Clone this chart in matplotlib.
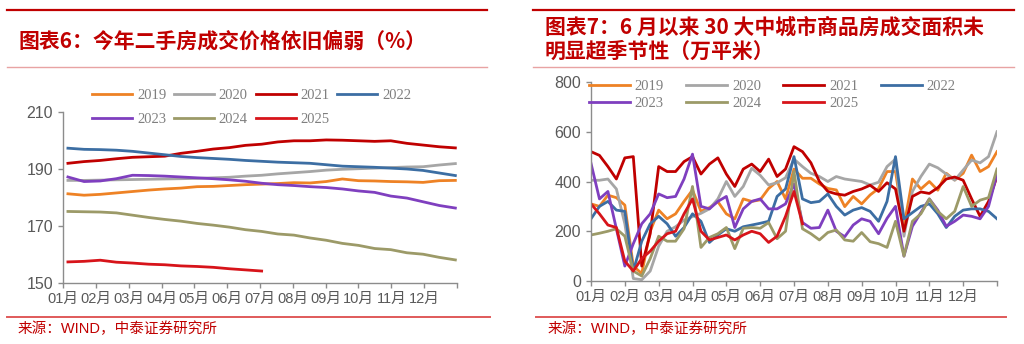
import numpy as np
import matplotlib
matplotlib.use('Agg')
import matplotlib.pyplot as plt
from matplotlib.lines import Line2D

plt.rcParams['font.family'] = ['Liberation Sans', 'Noto Sans CJK SC']

# Second-hand house price index by year (x in months from Jan 1)
price_x = np.linspace(0.15, 11.95, 25)
price_2019 = [181.3, 180.8, 181.1, 181.6, 182.1, 182.6, 183.0, 183.3, 183.8, 183.9, 184.2, 184.5, 184.7,
              184.9, 185.2, 185.1, 185.6, 186.5, 185.9, 185.8, 185.6, 185.5, 185.3, 185.9, 186.0]
price_2020 = [186.0, 186.0, 186.1, 186.2, 186.3, 186.4, 186.5, 186.6, 186.7, 186.9, 187.1, 187.5, 187.8,
              188.3, 188.7, 189.1, 189.6, 189.9, 190.1, 190.3, 190.5, 190.7, 190.8, 191.4, 191.9]
price_2021 = [192.0, 192.6, 193.0, 193.6, 194.1, 194.3, 194.5, 195.5, 196.2, 197.0, 197.5, 198.3, 198.7,
              199.5, 199.9, 199.9, 200.2, 200.1, 199.9, 199.7, 199.9, 199.0, 198.4, 197.8, 197.4]
price_2022 = [197.3, 196.9, 196.8, 196.6, 196.2, 195.6, 195.0, 194.4, 194.0, 193.7, 193.4, 193.0, 192.7,
              192.4, 192.2, 192.0, 191.5, 191.0, 190.8, 190.6, 190.3, 190.0, 189.5, 188.6, 187.7]
price_2023 = [187.2, 185.6, 185.8, 186.6, 187.8, 187.7, 187.5, 187.2, 186.9, 186.6, 186.2, 185.7, 185.0,
              184.5, 184.2, 183.8, 183.5, 183.0, 182.3, 181.8, 180.5, 179.8, 178.5, 177.2, 176.3]
price_2024 = [175.1, 175.0, 174.9, 174.6, 173.8, 173.0, 172.3, 171.7, 170.9, 170.3, 169.6, 168.7, 168.1,
              167.2, 166.8, 165.8, 165.0, 163.9, 163.2, 162.1, 161.7, 160.6, 160.1, 159.0, 158.1]
price_2025 = [157.4, 157.6, 158.0, 157.3, 157.0, 156.6, 156.4, 156.0, 155.8, 155.5, 155.0, 154.6, 154.2]

# 30 big/mid city new home sales area, 10k sqm, weekly (x in months)
area_x = np.arange(49) / 4
area_2019 = [310, 300, 345, 335, 305, 60, 30, 200, 285, 250, 270, 320, 366, 280, 295, 319, 270, 250, 330,
             320, 326, 372, 400, 330, 450, 413, 413, 390, 372, 366, 299, 340, 310, 346, 372, 440, 440, 220,
             410, 370, 400, 365, 433, 406, 433, 506, 440, 460, 520]
area_2020 = [405, 405, 410, 370, 230, 10, 5, 40, 140, 200, 218, 245, 259, 272, 290, 330, 400, 340, 380,
             453, 425, 386, 395, 415, 490, 460, 433, 420, 400, 420, 410, 405, 400, 386, 397, 460, 490, 180,
             360, 420, 470, 455, 430, 405, 446, 486, 475, 500, 600]
area_2021 = [520, 505, 460, 410, 495, 500, 60, 190, 460, 440, 440, 480, 500, 430, 470, 495, 430, 380, 450,
             470, 440, 490, 420, 450, 540, 520, 475, 400, 360, 350, 345, 360, 370, 385, 360, 395, 370, 200,
             340, 358, 352, 375, 410, 418, 405, 330, 260, 320, 420]
area_2022 = [250, 300, 320, 285, 280, 40, 160, 230, 260, 230, 180, 215, 270, 240, 155, 185, 210, 200, 218,
             225, 232, 240, 340, 370, 500, 330, 315, 320, 350, 300, 265, 285, 295, 280, 240, 320, 500, 250,
             275, 300, 310, 270, 215, 260, 285, 290, 290, 280, 250]
area_2023 = [473, 330, 360, 210, 60, 150, 230, 270, 350, 335, 340, 410, 510, 300, 290, 320, 340, 215, 290,
             320, 330, 290, 290, 310, 390, 235, 212, 215, 285, 200, 178, 225, 250, 240, 190, 252, 300, 100,
             220, 275, 330, 285, 220, 240, 265, 260, 250, 300, 430]
area_2024 = [185, 192, 200, 210, 180, 40, 20, 90, 180, 160, 160, 210, 380, 135, 175, 190, 215, 130, 212,
             215, 212, 235, 170, 200, 440, 210, 190, 165, 195, 205, 165, 160, 195, 158, 150, 135, 240, 100,
             240, 270, 330, 280, 250, 280, 380, 300, 325, 335, 450]
area_2025 = [310, 270, 225, 215, 80, 40, 90, 120, 160, 190, 200, 270, 330, 200, 165, 175, 185, 165, 185,
             200, 190, 155, 180, 260, 360, 230]

years = ['2019', '2020', '2021', '2022', '2023', '2024', '2025']
colors = ['#EE8225', '#A6A6A6', '#C00000', '#3C6EA3', '#7F3FBF', '#9C9A68', '#D7141A']
month_labels = ['01月', '02月', '03月', '04月', '05月', '06月',
                '07月', '08月', '09月', '10月', '11月', '12月', '']

price_series = [price_2019, price_2020, price_2021, price_2022, price_2023, price_2024, price_2025]
area_series = [area_2019, area_2020, area_2021, area_2022, area_2023, area_2024, area_2025]

W, H = 1024, 344
fig = plt.figure(figsize=(W / 100, H / 100), dpi=100)


def fx(px):
    return px / W


def fy(py):
    return 1 - py / H


def style_axis(ax):
    for side in ['top', 'right']:
        ax.spines[side].set_visible(False)
    for side in ['left', 'bottom']:
        ax.spines[side].set_color('#8c8c8c')
        ax.spines[side].set_linewidth(1.0)
    ax.tick_params(axis='both', colors='#8c8c8c', labelcolor='#595959', length=3.6, width=1.0)
    ax.tick_params(axis='y', labelsize=11.5, pad=3.5)
    ax.tick_params(axis='x', labelsize=10.5, pad=3)
    ax.set_xlim(0, 12)
    ax.set_xticks(range(13))
    ax.set_xticklabels(month_labels)


# order so that the 4-column legend reads row by row
legend_order = [0, 4, 1, 5, 2, 6, 3]
legend_font = {'family': 'Liberation Serif', 'size': 10.5}

# left panel: price index
ax1 = fig.add_axes([fx(63), fy(283), fx(457) - fx(63), fy(112) - fy(283)])
lines1 = []
for ys, c in zip(price_series, colors):
    ln, = ax1.plot(price_x[:len(ys)], ys, color=c, lw=2.0)
    lines1.append(ln)
ax1.set_ylim(150, 210)
ax1.set_yticks([150, 170, 190, 210])
style_axis(ax1)
ax1.legend([lines1[i] for i in legend_order], [years[i] for i in legend_order], ncol=4,
           loc='upper left', bbox_to_anchor=(fx(92), fy(89)), bbox_transform=fig.transFigure,
           frameon=False, prop=legend_font, labelcolor='#7f7f7f', handlelength=2.74,
           handletextpad=0.34, columnspacing=0.53, labelspacing=0.7, borderpad=0, borderaxespad=0)

# right panel: sales area
ax2 = fig.add_axes([fx(591), fy(281), fx(997) - fx(591), fy(82) - fy(281)])
lines2 = []
for ys, c in zip(area_series, colors):
    ln, = ax2.plot(area_x[:len(ys)], ys, color=c, lw=2.0)
    lines2.append(ln)
ax2.set_ylim(0, 800)
ax2.set_yticks([0, 200, 400, 600, 800])
style_axis(ax2)
ax2.legend([lines2[i] for i in legend_order], [years[i] for i in legend_order], ncol=4,
           loc='upper left', bbox_to_anchor=(fx(589), fy(80)), bbox_transform=fig.transFigure,
           frameon=False, prop=legend_font, labelcolor='#7f7f7f', handlelength=2.8,
           handletextpad=0.34, columnspacing=1.53, labelspacing=0.25, borderpad=0, borderaxespad=0)

# header / footer rules
red = '#C00000'
for x0, x1 in [(7, 487), (533, 1014)]:
    fig.add_artist(Line2D([fx(x0), fx(x1)], [fy(10), fy(10)], color=red, lw=1.6))
    fig.add_artist(Line2D([fx(x0), fx(x1)], [fy(67), fy(67)], color='#E8A3A3', lw=1.0))
for x0, x1 in [(7, 490), (536, 1006)]:
    fig.add_artist(Line2D([fx(x0), fx(x1)], [fy(317), fy(317)], color='#E05A5A', lw=1.4))

title_font = dict(fontsize=15, fontweight='bold', color=red, va='center', family=['Noto Sans CJK SC'])
fig.text(fx(19), fy(41), '图表6：今年二手房成交价格依旧偏弱（%）', **title_font)
fig.text(fx(545), fy(27), '图表7：6 月以来 30 大中城市商品房成交面积未', **title_font)
fig.text(fx(545), fy(51), '明显超季节性（万平米）', **title_font)

src_font = dict(fontsize=10.5, color=red, va='center', family=['Liberation Sans', 'Noto Sans CJK SC'])
fig.text(fx(18), fy(329), '来源：WIND，中泰证券研究所', **src_font)
fig.text(fx(548), fy(329), '来源：WIND，中泰证券研究所', **src_font)

fig.savefig('out.png', dpi=100)
